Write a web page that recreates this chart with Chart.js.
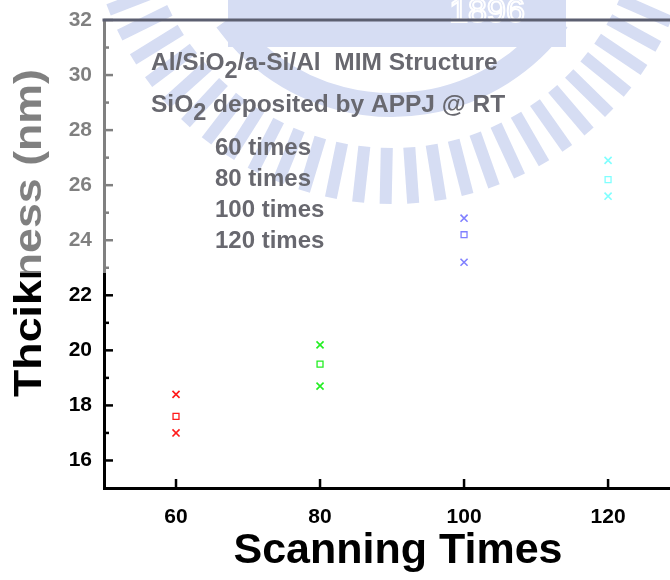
<!DOCTYPE html>
<html>
<head>
<meta charset="utf-8">
<title>Thickness vs scanning times</title>
<script src="https://cdn.jsdelivr.net/npm/chart.js@4.4.1/dist/chart.umd.min.js"></script>
<style>
  html, body { margin: 0; padding: 0; overflow: hidden; background: #fff; }
  canvas { display: block; }
</style>
</head>
<body>
<canvas id="grafico" width="670" height="580"></canvas>
<script>
// measured thickness for each number of APPJ scans
const scanTimes = [60, 80, 100, 120];
const upperThk = [18.4, 20.2, 24.8, 26.9];
const meanThk = [17.6, 19.5, 24.2, 26.2];
const lowerThk = [17.0, 18.7, 23.2, 25.6];

const legendLabels = ['60 times', '80 times', '100 times', '120 times'];
const xTickValues = [60, 80, 100, 120];
const yTickValues = [16, 18, 20, 22, 24, 26, 28, 30, 32];
const yMinorValues = [17, 19, 21, 23, 25, 27, 29, 31];

const serieColors = ['#ff1a1a', '#22ee22', '#0000ff', '#00ffff'];
const FONT = "'Liberation Sans', Arial, sans-serif";
const AZUL = 'rgb(172,186,231)';

const datasets = scanTimes.map((t, i) => ({
  label: legendLabels[i],
  data: [
    { x: t, y: upperThk[i] },
    { x: t, y: meanThk[i] },
    { x: t, y: lowerThk[i] }
  ],
  borderColor: serieColors[i],
  backgroundColor: 'transparent',
  pointStyle: ['crossRot', 'rect', 'crossRot'],
  pointRadius: [5, 4.2, 5],
  pointBorderWidth: [1.6, 1.3, 1.6],
  showLine: false
}));

// texto com subscrito: lista de pedaços {t, sub}
function textoRico(ctx, partes, x, y, tam) {
  let cx = x;
  partes.forEach(p => {
    ctx.font = `bold ${p.sub ? tam - 1 : tam}px ${FONT}`;
    ctx.fillText(p.t, cx, p.sub ? y + 8 : y);
    cx += ctx.measureText(p.t).width;
  });
}

// marca d'agua azul clara (fica por baixo de tudo)
const marcaDagua = {
  id: 'marcaDagua',
  beforeDraw(chart) {
    const ctx = chart.ctx;
    ctx.save();
    ctx.fillStyle = AZUL;
    ctx.strokeStyle = AZUL;
    const cx = 392, cy = -100;
    for (let a = 8; a <= 172; a += 5.2) {
      const r = a * Math.PI / 180;
      ctx.save();
      ctx.translate(cx, cy);
      ctx.rotate(r - Math.PI / 2);
      ctx.fillRect(-6, 248, 12, 56);
      ctx.restore();
    }
    ctx.lineWidth = 24;
    ctx.beginPath();
    ctx.arc(cx, cy, 205, 0.2 * Math.PI, 0.8 * Math.PI);
    ctx.stroke();
    ctx.fillRect(228, -5, 338, 52);
    ctx.strokeStyle = '#fff';
    ctx.lineWidth = 2;
    ctx.font = `34px ${FONT}`;
    ctx.textAlign = 'center';
    ctx.strokeText('1896', 487, 22);
    ctx.restore();
  }
};

// moldura, ticks internos, textos e a névoa branca na parte de cima
const decoracao = {
  id: 'decoracao',
  afterDraw(chart) {
    const ctx = chart.ctx;
    const { left, top, bottom } = chart.chartArea;
    const sx = chart.scales.x, sy = chart.scales.y;
    ctx.save();
    ctx.strokeStyle = '#000';
    ctx.lineWidth = 2.5;
    yTickValues.forEach(v => {
      const py = sy.getPixelForValue(v);
      ctx.beginPath(); ctx.moveTo(left, py); ctx.lineTo(left + 9, py); ctx.stroke();
    });
    yMinorValues.forEach(v => {
      const py = sy.getPixelForValue(v);
      ctx.beginPath(); ctx.moveTo(left, py); ctx.lineTo(left + 5, py); ctx.stroke();
    });
    xTickValues.forEach(v => {
      const px = sx.getPixelForValue(v);
      ctx.beginPath(); ctx.moveTo(px, bottom); ctx.lineTo(px, bottom - 9); ctx.stroke();
    });

    // títulos dos eixos
    ctx.fillStyle = '#000';
    ctx.textBaseline = 'alphabetic';
    ctx.textAlign = 'center';
    ctx.font = `bold 43px ${FONT}`;
    ctx.fillText('Scanning Times', 398, 563);

    ctx.save();
    ctx.translate(41, 233);
    ctx.rotate(-Math.PI / 2);
    ctx.font = `bold 39px ${FONT}`;
    const w = ctx.measureText('Thcikness (nm)').width;
    ctx.scale(328 / w, 1);
    ctx.fillText('Thcikness (nm)', 0, 0);
    ctx.restore();

    // névoa branca
    ctx.fillStyle = 'rgba(255,255,255,0.5)';
    ctx.fillRect(0, 0, chart.width, 273);

    // eixo de cima
    ctx.strokeStyle = '#5c5f70';
    ctx.lineWidth = 3;
    ctx.beginPath();
    ctx.moveTo(left - 1.5, top);
    ctx.lineTo(chart.width, top);
    ctx.stroke();

    ctx.fillStyle = '#68686f';
    ctx.textAlign = 'left';
    textoRico(ctx, [{ t: 'Al/SiO' }, { t: '2', sub: true }, { t: '/a-Si/Al  MIM Structure' }], 151, 70, 24.5);
    textoRico(ctx, [{ t: 'SiO' }, { t: '2', sub: true }, { t: ' deposited by APPJ @ RT' }], 151, 112, 24.5);
    ctx.font = `bold 24px ${FONT}`;
    legendLabels.forEach((l, i) => {
      ctx.fillText(l, 215, 155 + i * 31);
    });
    ctx.restore();
  }
};

new Chart(document.getElementById('grafico'), {
  type: 'scatter',
  data: { datasets },
  options: {
    responsive: false,
    animation: false,
    layout: { autoPadding: false, padding: { top: 20, right: 0, left: 0, bottom: 0 } },
    plugins: { legend: { display: false }, tooltip: { enabled: false } },
    scales: {
      x: {
        type: 'linear',
        min: 50,
        max: 128.6,
        afterBuildTicks: s => { s.ticks = xTickValues.map(v => ({ value: v })); },
        afterFit: s => { s.height = 92; s.paddingLeft = 0; s.paddingRight = 0; },
        grid: { display: false, drawTicks: false },
        border: { display: true, color: '#000', width: 3 },
        ticks: { color: '#000', padding: 17, font: { family: FONT, size: 21, weight: 'bold' } }
      },
      y: {
        type: 'linear',
        min: 15,
        max: 32,
        afterBuildTicks: s => { s.ticks = yTickValues.map(v => ({ value: v })); },
        afterFit: s => { s.width = 104; s.paddingTop = 0; s.paddingBottom = 0; },
        grid: { display: false, drawTicks: false },
        border: { display: true, color: '#000', width: 3 },
        ticks: { color: '#000', padding: 12, font: { family: FONT, size: 21, weight: 'bold' } }
      }
    }
  },
  plugins: [marcaDagua, decoracao]
});
</script>
</body>
</html>
